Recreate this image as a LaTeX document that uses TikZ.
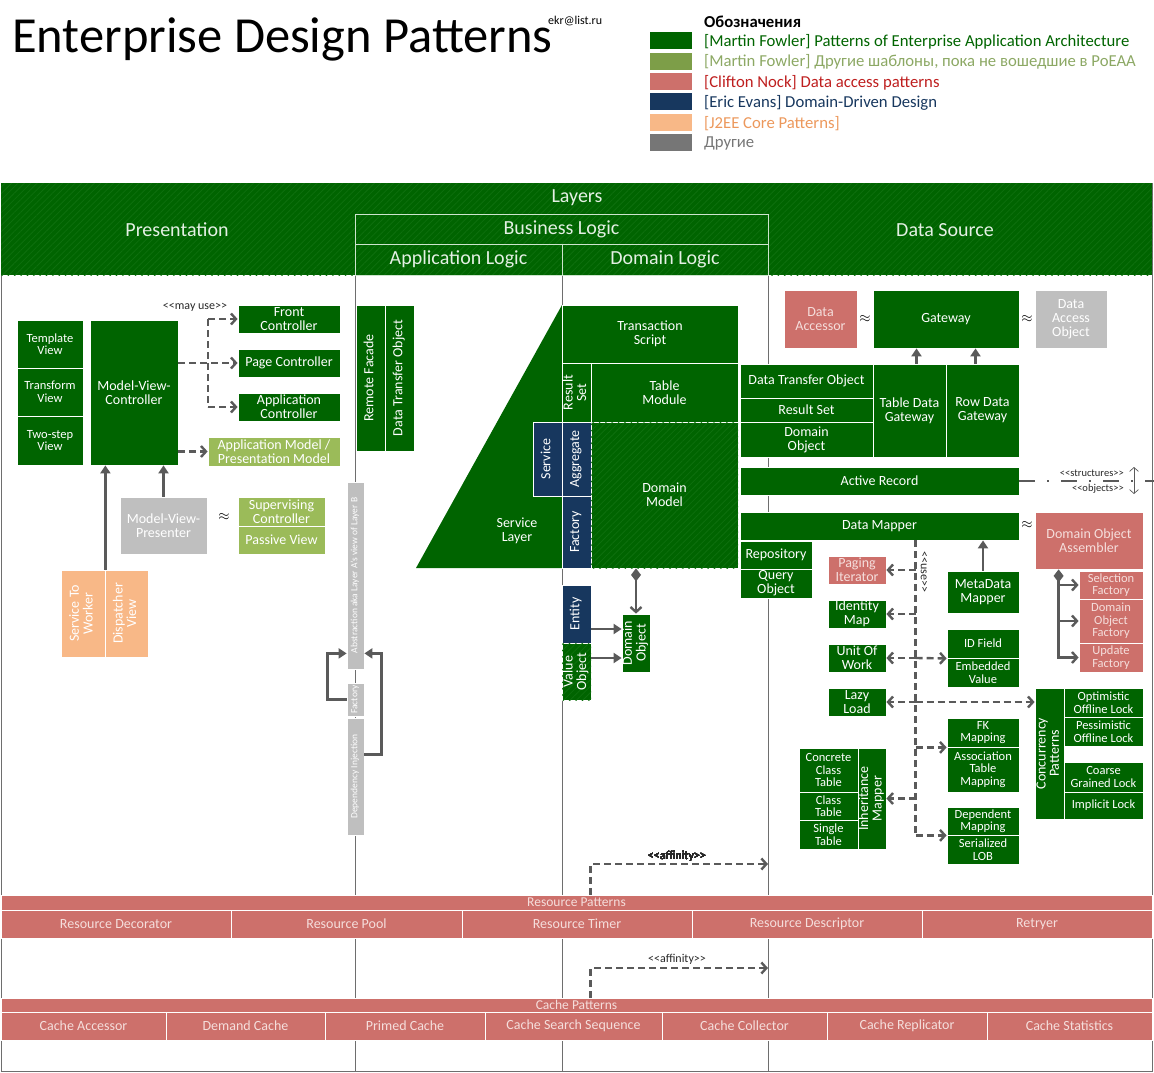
\documentclass[tikz,border=0pt]{standalone}
\usepackage{fontspec}
\setmainfont{Carlito}
\usepackage{graphicx}
\usetikzlibrary{arrows.meta,patterns.meta,calc}

\definecolor{pgreen}{RGB}{0,100,0}
\definecolor{hatchgreen}{RGB}{14,112,14}
\definecolor{fowlerlight}{RGB}{155,187,89}
\definecolor{fowlerkey}{RGB}{125,158,72}
\definecolor{fowlerkeytext}{RGB}{140,168,100}
\definecolor{nockred}{RGB}{205,112,107}
\definecolor{nocktext}{RGB}{190,30,30}
\definecolor{nockfont}{RGB}{245,222,220}
\definecolor{evansblue}{RGB}{23,55,94}
\definecolor{jeeorange}{RGB}{248,184,135}
\definecolor{jeetext}{RGB}{236,152,92}
\definecolor{othergrey}{RGB}{191,191,191}
\definecolor{otherkey}{RGB}{118,118,118}
\definecolor{linkgrey}{RGB}{90,90,90}
\definecolor{framegrey}{RGB}{110,110,110}
\definecolor{headtext}{RGB}{228,240,228}
\definecolor{headline}{RGB}{205,228,205}
\definecolor{notetext}{RGB}{40,40,40}

% font sizes (1pt = 1px of the sheet)
\newcommand{\szTitle}{\fontsize{50.5}{55}\selectfont}
\newcommand{\szMail}{\fontsize{12}{13}\selectfont}
\newcommand{\szKey}{\fontsize{16.7}{18}\selectfont}
\newcommand{\szHead}{\fontsize{20}{22}\selectfont}
\newcommand{\szBox}{\fontsize{14}{14}\selectfont}
\newcommand{\szSmall}{\fontsize{12.5}{12.5}\selectfont}
\newcommand{\szTiny}{\fontsize{9.5}{10}\selectfont}
\newcommand{\szBar}{\fontsize{13.5}{14}\selectfont}
\newcommand{\szNote}{\fontsize{12}{13}\selectfont}
\newcommand{\szMini}{\fontsize{10.5}{11}\selectfont}
% stereotype brackets, kept apart so they stay two signs each
\newcommand{\stL}{\textless\kern0pt\textless}
\newcommand{\stR}{\textgreater\kern0pt\textgreater}

% box from corner (x1,y1) to corner (x2,y2), in sheet pixels
\newcommand{\patbox}[7]{%
  \node[#2, minimum width={(#5-#3)*1pt}, minimum height={(#6-#4)*1pt}]
    (#1) at ({(#3+#5)/2},{(#4+#6)/2}) {#7};}
\newcommand{\vtxt}[1]{\rotatebox{90}{\renewcommand{\arraystretch}{0.95}%
  \begin{tabular}{@{}c@{}}#1\end{tabular}}}

\begin{document}
\begin{tikzpicture}[x=1pt, y=-1pt,
  pat/.style={draw=white, line width=0.8pt, inner sep=0pt, align=center, font=\szBox},
  pofeaa/.style={pat, fill=pgreen, text=white},
  pofeaaplus/.style={pat, fill=fowlerlight, text=white},
  nock/.style={pat, fill=nockred, text=nockfont},
  evans/.style={pat, fill=evansblue, text=white},
  jee/.style={pat, fill=jeeorange, text=white},
  misc/.style={pat, fill=othergrey, text=white},
  smallfont/.style={font=\szSmall},
  tinyfont/.style={font=\szTiny},
  barfont/.style={font=\szBar},
  hatchfill/.style={postaction={pattern={Lines[angle=45,distance=4.5pt,line width=0.8pt]},
    pattern color=hatchgreen}},
  headcell/.style={draw=headline, line width=0.8pt, inner sep=0pt, text=headtext, font=\szHead},
  headtxt/.style={inner sep=0pt, text=headtext, font=\szHead},
  note/.style={inner sep=0pt, text=notetext, font=\szNote},
  approx/.style={inner sep=0pt, font=\szBox},
  link/.style={draw=linkgrey, line width=2.4pt},
  solidarr/.style={link, -{Triangle[length=8pt,width=10pt]}},
  openarr/.style={link, -{Straight Barb[length=5pt,width=11pt]}},
  dashline/.style={link, dash pattern=on 7pt off 4pt},
  dasharr/.style={dashline, -{Straight Barb[length=5pt,width=11pt]}},
  compose/.style={link, {Diamond[length=13pt,width=10pt]}-{Straight Barb[length=5pt,width=11pt]}},
  dashdot/.style={link, dash pattern=on 16pt off 12pt on 2pt off 12pt},
  thinarr/.style={draw=linkgrey, line width=0.7pt, {Straight Barb[length=4pt,width=9pt]}-{Straight Barb[length=4pt,width=9pt]}},
]
  \useasboundingbox (0,0) rectangle (1154,1073);

  % title and key
  \node[anchor=base west, inner sep=0pt, font=\szTitle] (title) at (12,53) {Enterprise Design Patterns};
  \node[anchor=base west, inner sep=0pt, font=\szMail] (email) at (548,25) {ekr@list.ru};
  \node[anchor=west, inner sep=0pt, font=\szKey\bfseries] (keytitle) at (704,22) {Обозначения};
  \foreach \i/\sw/\tc/\lbl in {
      0/pgreen/pgreen/{[Martin Fowler] Patterns of Enterprise Application Architecture},
      1/fowlerkey/fowlerkeytext/{[Martin Fowler] Другие шаблоны, пока не вошедшие в PoEAA},
      2/nockred/nocktext/{[Clifton Nock] Data access patterns},
      3/evansblue/evansblue/{[Eric Evans] Domain-Driven Design},
      4/jeeorange/jeetext/{[J2EE Core Patterns]},
      5/otherkey/otherkey/{Другие}} {
    \node[fill=\sw, minimum width=42pt, minimum height=17pt, inner sep=0pt] (key\i) at (671,{41+20.3*\i}) {};
    \node[anchor=west, inner sep=0pt, text=\tc, font=\szKey] (keytext\i) at (704,{42+20.3*\i}) {\lbl};
  }

  % frame, header band and layer lines
  \draw[framegrey, line width=1pt] (1,183) rectangle (1152,1071);
  \fill[pgreen] (1,183) rectangle (1152,275);
  \fill[pattern={Lines[angle=45,distance=4.5pt,line width=0.8pt]}, pattern color=hatchgreen]
    (1,183) rectangle (1152,275);
  \foreach \x in {355,562,768}
    \draw[framegrey, line width=0.8pt] (\x,275) -- (\x,1071);

  \node[headtxt] (layers) at (577,198) {Layers};
  \node[headtxt] (presentation) at (177,230) {Presentation};
  \node[headtxt] (datasource) at (945,230) {Data Source};
  \patbox{bizlogic}{headcell}{355}{214}{768}{244}{Business Logic}
  \patbox{applogic}{headcell}{355}{244}{562}{275}{Application Logic}
  \patbox{domlogic}{headcell}{562}{244}{768}{275}{Domain Logic}

  % presentation
  \patbox{tplview}{pofeaa,smallfont}{17}{320}{83}{368}{Template\\View}
  \patbox{trfview}{pofeaa,smallfont}{17}{368}{83}{416}{Transform\\View}
  \patbox{twostep}{pofeaa,smallfont}{17}{416}{83}{465}{Two-step\\View}
  \patbox{mvc}{pofeaa}{90}{320}{178}{465}{Model-View-\\Controller}
  \patbox{frontctl}{pofeaa}{238}{305}{340}{333}{Front\\Controller}
  \patbox{pagectl}{pofeaa}{238}{349}{340}{377}{Page Controller}
  \patbox{appctl}{pofeaa}{238}{393}{340}{421}{Application\\Controller}
  \patbox{appmodel}{pofeaaplus}{208}{437}{340}{466}{Application Model /\\Presentation Model}
  \patbox{mvp}{misc}{120}{497}{207}{554}{Model-View-\\Presenter}
  \patbox{supctl}{pofeaaplus}{238}{497}{325}{526}{Supervising\\Controller}
  \patbox{passview}{pofeaaplus}{238}{526}{325}{554}{Passive View}
  \patbox{svctoworker}{jee}{61}{570}{105}{657}{\vtxt{Service To\\Worker}}
  \patbox{dispview}{jee}{105}{570}{148}{657}{\vtxt{Dispatcher\\View}}
  \node[approx] (mvpapprox) at (224,517) {$\approx$};
  \node[note] (mayuselbl) at (195,307) {\stL may use\stR};

  % application logic
  \patbox{remfacade}{pofeaa}{356}{305}{385}{451}{\vtxt{Remote Facade}}
  \patbox{dtoapp}{pofeaa}{385}{305}{414}{451}{\vtxt{Data Transfer Object}}
  \patbox{abstr}{misc,tinyfont}{347}{482}{364}{669}{\vtxt{Abstraction aka Layer A's view of Layer B}}
  \patbox{gfactory}{misc,tinyfont}{347}{683}{364}{716}{\vtxt{Factory}}
  \patbox{depinj}{misc,tinyfont}{347}{718}{364}{835}{\vtxt{Dependency Injection}}

  % domain logic
  \fill[pgreen] (562,305) -- (416,568) -- (562,568) -- cycle;
  \node[inner sep=0pt, align=center, text=white, font=\szBox] (svclayer) at (517,531) {Service\\Layer};
  \patbox{txscript}{pofeaa}{562}{305}{738}{363}{Transaction\\Script}
  \patbox{resultset}{pofeaa}{562}{363}{591}{422}{\vtxt{Result\\Set}}
  \patbox{tablemod}{pofeaa}{591}{363}{738}{422}{Table\\Module}
  \patbox{dservice}{evans}{533}{422}{562}{496}{\vtxt{Service}}
  \patbox{aggregate}{evans}{562}{422}{591}{496}{\vtxt{Aggregate}}
  \patbox{dfactory}{evans}{562}{496}{591}{568}{\vtxt{Factory}}
  \patbox{dommodel}{pofeaa,hatchfill}{591}{422}{738}{568}{Domain\\Model}
  \patbox{entity}{evans}{562}{585}{591}{643}{\vtxt{Entity}}
  \patbox{valobj}{pofeaa,hatchfill}{562}{643}{591}{700}{\vtxt{Value\\Object}}
  \patbox{domobj}{pofeaa}{622}{614}{650}{672}{\vtxt{Domain\\Object}}

  % data source
  \patbox{daccessor}{nock}{784}{290}{857}{348}{Data\\Accessor}
  \patbox{gateway}{pofeaa}{873}{290}{1019}{348}{Gateway}
  \patbox{dao}{misc}{1035}{290}{1107}{348}{Data\\Access\\Object}
  \node[approx] (gwapprox1) at (865,319) {$\approx$};
  \node[approx] (gwapprox2) at (1027,319) {$\approx$};
  \patbox{dtods}{pofeaa}{740}{364}{873}{398}{Data Transfer Object}
  \patbox{rsetds}{pofeaa}{740}{398}{873}{422}{Result Set}
  \patbox{domobjds}{pofeaa}{740}{422}{873}{457}{Domain\\Object}
  \patbox{tdg}{pofeaa}{873}{364}{946}{457}{Table Data\\Gateway}
  \patbox{rdg}{pofeaa}{946}{364}{1019}{457}{Row Data\\Gateway}
  \patbox{actrec}{pofeaa}{740}{467}{1019}{495}{Active Record}
  \patbox{datamapper}{pofeaa}{740}{512}{1019}{540}{Data Mapper}
  \node[approx] (dmapprox) at (1027,525) {$\approx$};
  \patbox{doassembler}{nock}{1035}{512}{1143}{569}{Domain Object\\Assembler}
  \patbox{repository}{pofeaa}{740}{541}{812}{569}{Repository}
  \patbox{queryobj}{pofeaa}{740}{569}{812}{598}{Query\\Object}
  \patbox{pagingit}{nock}{828}{556}{886}{584}{Paging\\Iterator}
  \patbox{identmap}{pofeaa}{828}{600}{886}{628}{Identity\\Map}
  \patbox{unitwork}{pofeaa}{828}{644}{886}{672}{Unit Of\\Work}
  \patbox{lazyload}{pofeaa}{828}{688}{886}{716}{Lazy\\Load}
  \patbox{metamapper}{pofeaa}{947}{571}{1019}{613}{MetaData\\Mapper}
  \patbox{idfield}{pofeaa,smallfont}{947}{629}{1019}{658}{ID Field}
  \patbox{embvalue}{pofeaa,smallfont}{947}{658}{1019}{687}{Embedded\\Value}
  \patbox{fkmap}{pofeaa,smallfont}{947}{718}{1019}{747}{FK\\Mapping}
  \patbox{assoctable}{pofeaa,smallfont}{947}{747}{1019}{792}{Association\\Table\\Mapping}
  \patbox{depmap}{pofeaa,smallfont}{947}{807}{1019}{835}{Dependent\\Mapping}
  \patbox{serlob}{pofeaa,smallfont}{947}{835}{1019}{864}{Serialized\\LOB}
  \patbox{concclass}{pofeaa,smallfont}{799}{748}{858}{792}{Concrete\\Class\\Table}
  \patbox{classtable}{pofeaa,smallfont}{799}{792}{858}{820}{Class\\Table}
  \patbox{singletable}{pofeaa,smallfont}{799}{820}{858}{849}{Single\\Table}
  \patbox{inhmapper}{pofeaa}{858}{748}{886}{849}{\vtxt{Inheritance\\Mapper}}
  \patbox{concpat}{pofeaa}{1035}{688}{1064}{819}{\vtxt{Concurrency\\Patterns}}
  \patbox{optlock}{pofeaa,smallfont}{1064}{688}{1143}{717}{Optimistic\\Offline Lock}
  \patbox{pesslock}{pofeaa,smallfont}{1064}{717}{1143}{746}{Pessimistic\\Offline Lock}
  \patbox{coarselock}{pofeaa,smallfont}{1064}{762}{1143}{792}{Coarse\\Grained Lock}
  \patbox{impllock}{pofeaa,smallfont}{1064}{792}{1143}{819}{Implicit Lock}
  \patbox{selfactory}{nock,smallfont}{1079}{571}{1143}{599}{Selection\\Factory}
  \patbox{dofactory}{nock,smallfont}{1079}{599}{1143}{643}{Domain\\Object\\Factory}
  \patbox{updfactory}{nock,smallfont}{1079}{643}{1143}{672}{Update\\Factory}
  \node[inner sep=0pt, text=notetext, font=\szMini, anchor=east] (structlbl) at (1124,473) {\stL structures\stR};
  \node[inner sep=0pt, text=notetext, font=\szMini, anchor=east] (objlbl) at (1124,489) {\stL objects\stR};
  \node[note, rotate=-90] (uselbl) at (924,572) {\stL use\stR};

  % resource and cache patterns
  \patbox{respat}{nock,barfont}{1}{895}{1152}{910}{Resource Patterns}
  \foreach \nm/\xa/\xb/\lbl in {resdeco/1/231/Resource Decorator, respool/231/462/Resource Pool,
      restimer/462/692/Resource Timer, resdesc/692/922/Resource Descriptor, retryer/922/1152/Retryer}
    \patbox{\nm}{nock}{\xa}{910}{\xb}{938}{\lbl}
  \patbox{cachepat}{nock,barfont}{1}{998}{1152}{1012}{Cache Patterns}
  \foreach \nm/\xa/\xb/\lbl in {cacheacc/1/166/Cache Accessor, demandc/166/325/Demand Cache,
      primedc/325/485/Primed Cache, cachesearch/485/662/Cache Search Sequence,
      cachecoll/662/827/Cache Collector, cacherepl/827/987/Cache Replicator,
      cachestat/987/1152/Cache Statistics}
    \patbox{\nm}{nock}{\xa}{1012}{\xb}{1040}{\lbl}
  \node[note] (aff1lbl) at (677,856.5) {\stL affinity\stR};
  \node[note] (aff2lbl) at (677,959.5) {\stL affinity\stR};

  % connectors: presentation
  \coordinate (mayfork) at (208,363);
  \draw[dasharr] (mvc.east |- pagectl) -- (pagectl);
  \draw[dashline] (mayfork |- frontctl) -- (mayfork |- appctl);
  \draw[dasharr] (mayfork |- frontctl) -- (frontctl);
  \draw[dasharr] (mayfork |- appctl) -- (appctl);
  \draw[dasharr] (mvc.east |- appmodel) -- (appmodel);
  \draw[solidarr] (mvp.north) -- (mvp.north |- mvc.south);
  \draw[solidarr] (svctoworker.north east) -- (svctoworker.north east |- mvc.south);

  % connectors: application logic
  \draw[solidarr] (gfactory.west) -- ++(-19,0) |- ($(abstr.south west)+(0,-16)$);
  \draw[solidarr] ($(depinj.north east)+(0,37)$) -- ++(17,0) |- ($(abstr.south east)+(0,-16)$);

  % connectors: domain logic
  \coordinate (entin) at ($(domobj.west)+(0,-14)$);
  \coordinate (valin) at ($(domobj.west)+(0,15)$);
  \draw[compose] (dommodel.south -| domobj) -- (domobj.north);
  \draw[solidarr] (entity.east |- entin) -- (entin);
  \draw[solidarr] (valobj.east |- valin) -- (valin);

  % connectors: data source
  \coordinate (tdgup) at ($(tdg.north)+(7,0)$);
  \coordinate (rdgup) at ($(rdg.north)+(-7,0)$);
  \draw[solidarr] (tdgup) -- (tdgup |- gateway.south);
  \draw[solidarr] (rdgup) -- (rdgup |- gateway.south);
  \draw[solidarr] (metamapper.north) -- (metamapper.north |- datamapper.south);
  \coordinate (arright) at (1154,481);
  \draw[dashdot] (actrec.east) -- (arright);
  \coordinate (updown1) at (1134,467);
  \coordinate (updown2) at (1134,494);
  \draw[thinarr] (updown1) -- (updown2);

  \coordinate (usefork) at ($(datamapper.south west)+(176,0)$);
  \draw[dashline] (usefork) -- (usefork |- depmap.south);
  \foreach \tgt in {pagingit, identmap, unitwork, lazyload, inhmapper}
    \draw[dasharr] (usefork |- \tgt) -- (\tgt);
  \draw[dasharr] (usefork |- unitwork) -- (idfield.south west);
  \draw[dasharr] (usefork |- lazyload) -- (concpat.west |- lazyload);
  \draw[dasharr] (usefork |- fkmap.south) -- (fkmap.south west);
  \draw[dasharr] (usefork |- depmap.south) -- (depmap.south west);

  \coordinate (doadia) at ($(doassembler.south west)+(24,0)$);
  \draw[compose] (doadia) |- (updfactory);
  \draw[openarr] (doadia |- selfactory) -- (selfactory);
  \draw[openarr] (doadia |- dofactory) -- (dofactory);

  % affinity
  \coordinate (aff1) at ($(respat.north west)+(590,0)$);
  \coordinate (aff1end) at (768,864);
  \draw[dasharr] (aff1) |- (aff1end);
  \coordinate (aff2) at ($(cachepat.north west)+(590,0)$);
  \coordinate (aff2end) at (768,968);
  \draw[dasharr] (aff2) |- (aff2end);
\end{tikzpicture}
\end{document}
